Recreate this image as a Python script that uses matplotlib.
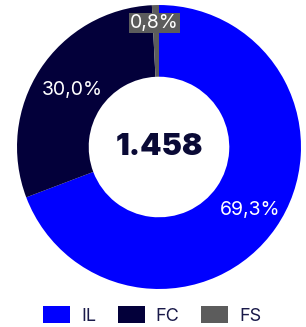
import numpy as np
import matplotlib.pyplot as plt
from matplotlib.patches import Patch

categories = ["IL", "FC", "FS"]
values = [69.3, 30.0, 0.8]
labels = ["69,3%", "30,0%", "0,8%"]
total_label = "1.458"
colors = ["#0000FF", "#03003A", "#5C5C5C"]
label_r = [0.78, 0.73, 0.875]

plt.rcParams['font.family'] = ['Inter', 'DejaVu Sans']

fig = plt.figure(figsize=(3.06, 3.27), dpi=100)
ax = fig.add_axes([0.0556, 0.1162, 0.928, 0.8685])
ax.set_aspect('equal')
wedges, _ = ax.pie(values, colors=colors, startangle=90, counterclock=False,
                   wedgeprops=dict(width=0.505, edgecolor='none'), radius=1.0)
ax.set_xlim(-1.0, 1.0)
ax.set_ylim(-1.0, 1.0)

cum = np.cumsum([0] + values[:-1])
tot = sum(values)
for i, (v, c0) in enumerate(zip(values, cum)):
    mid = (c0 + v / 2) / tot * 2 * np.pi
    x = label_r[i] * np.sin(mid)
    y = label_r[i] * np.cos(mid)
    if i == 2:
        ax.text(x - 0.01, y, labels[i], ha='center', va='center', color='white', fontsize=14,
                bbox=dict(boxstyle='square,pad=0.05', fc=colors[2], ec='none'))
    else:
        ax.text(x, y, labels[i], ha='center', va='center', color='white', fontsize=14)

ax.text(0, 0, total_label, ha='center', va='center', color='#0A0A36',
        fontsize=22, fontweight='black')

handles = [Patch(facecolor=c, edgecolor='none') for c in colors]
fig.legend(handles, categories, loc='center', ncol=3, frameon=False,
           bbox_to_anchor=(0.497, 11.5 / 327), handlelength=1.5, handleheight=1.05,
           columnspacing=1.2, handletextpad=0.6, fontsize=13, labelcolor='#1A1A4A',
           borderpad=0, borderaxespad=0)

fig.savefig("out.png", dpi=100, facecolor='white')
